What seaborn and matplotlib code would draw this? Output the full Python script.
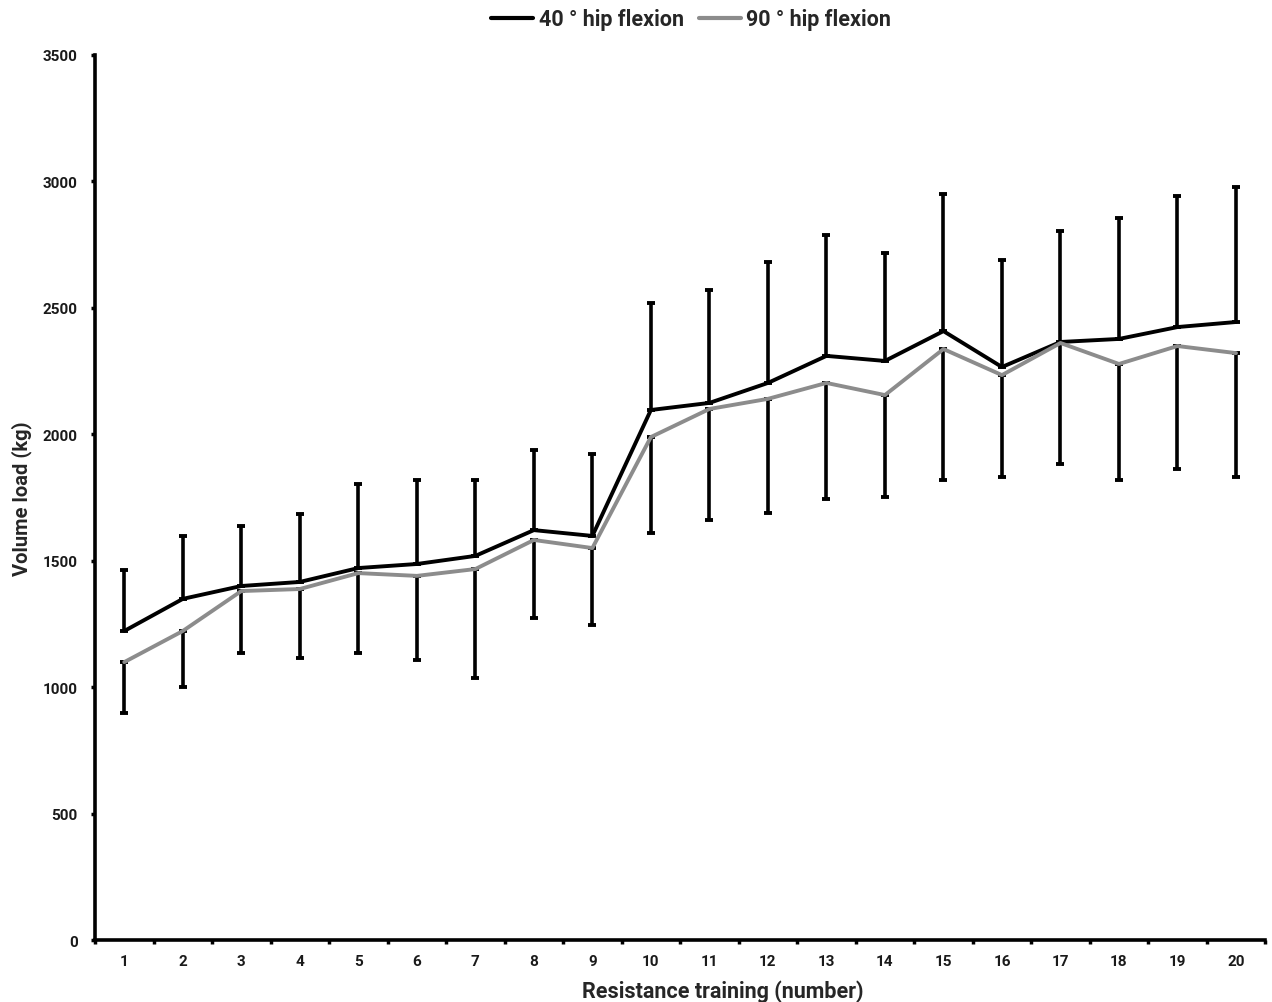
import numpy as np
import pandas as pd
import matplotlib
matplotlib.use("Agg")
import matplotlib.pyplot as plt
import seaborn as sns

sessions = list(range(1, 21))
mean_40 = [1222, 1349, 1400, 1416, 1471, 1487, 1519, 1621, 1598, 2096,
           2124, 2203, 2310, 2290, 2408, 2266, 2365, 2377, 2424, 2444]
sd_40 = [241, 249, 237, 269, 332, 332, 300, 317, 324, 423,
         447, 478, 478, 427, 542, 423, 439, 478, 518, 534]
mean_90 = [1099, 1222, 1380, 1388, 1451, 1440, 1467, 1582, 1550, 1989,
           2100, 2140, 2203, 2155, 2337, 2234, 2361, 2278, 2349, 2321]
sd_90 = [201, 221, 245, 273, 316, 333, 431, 309, 304, 379,
         439, 451, 459, 403, 518, 403, 479, 459, 486, 490]
labels = ["40 ° hip flexion", "90 ° hip flexion"]
yticks = [0, 500, 1000, 1500, 2000, 2500, 3000, 3500]

sns.set_theme(style="white")
plt.rcParams['font.family'] = ['Roboto', 'DejaVu Sans']

df = pd.DataFrame({
    "session": sessions * 2,
    "load": mean_40 + mean_90,
    "group": [labels[0]] * 20 + [labels[1]] * 20,
})

fig = plt.figure(figsize=(12.72, 10.03), dpi=100)
ax = fig.add_axes([0.0747, 0.0618, 0.92, 0.8824])

# error bars: upward for 40°, downward for 90°
ax.errorbar(sessions, mean_40, yerr=[np.zeros(20), sd_40], fmt='none',
            ecolor='black', elinewidth=2.6, capsize=3.2, capthick=2.8, zorder=2)
ax.errorbar(sessions, mean_90, yerr=[sd_90, np.zeros(20)], fmt='none',
            ecolor='black', elinewidth=2.6, capsize=3.2, capthick=2.8, zorder=2)

sns.lineplot(data=df, x="session", y="load", hue="group",
             palette={labels[0]: "black", labels[1]: "#8c8c8c"},
             linewidth=2.8, ax=ax, legend=True, zorder=3)

ax.set_xlim(0.5, 20.5)
ax.set_ylim(0, 3500)
ax.set_xticks(sessions)
ax.set_xticklabels([str(s) for s in sessions])
ax.set_xticks(np.arange(0.5, 21, 1), minor=True)
ax.set_yticks(yticks)
ax.set_yticklabels([str(v) for v in yticks])
ax.tick_params(axis='x', which='major', length=0, pad=10, labelsize=11)
ax.tick_params(axis='x', which='minor', length=3, width=2.5, color='black',
               bottom=True, direction='out')
ax.tick_params(axis='y', which='major', length=3, width=2.5, color='black',
               left=True, direction='out', pad=9.5, labelsize=11)
for lab in ax.get_xticklabels() + ax.get_yticklabels():
    lab.set_fontweight('bold')
    lab.set_color('#1a1a1a')

for s in ['top', 'right']:
    ax.spines[s].set_visible(False)
for s in ['left', 'bottom']:
    ax.spines[s].set_linewidth(2.6)
    ax.spines[s].set_color('black')

ax.set_xlabel("Resistance training (number)", fontsize=15.5, fontweight='bold',
              labelpad=8)
ax.xaxis.label.set_x(0.536)
ax.set_ylabel("Volume load (kg)", fontsize=14.5, fontweight='bold', labelpad=8)

handles, _ = ax.get_legend_handles_labels()
ax.get_legend().remove()
leg = fig.legend(handles, labels, loc='center', bbox_to_anchor=(691 / 1272, 0.98),
                 ncol=2, frameon=False, handlelength=1.95, handletextpad=0.25,
                 columnspacing=0.7, prop={'weight': 'bold', 'size': 15.5})
for h in leg.get_lines():
    h.set_linewidth(3)

fig.savefig("out.png", dpi=100)
